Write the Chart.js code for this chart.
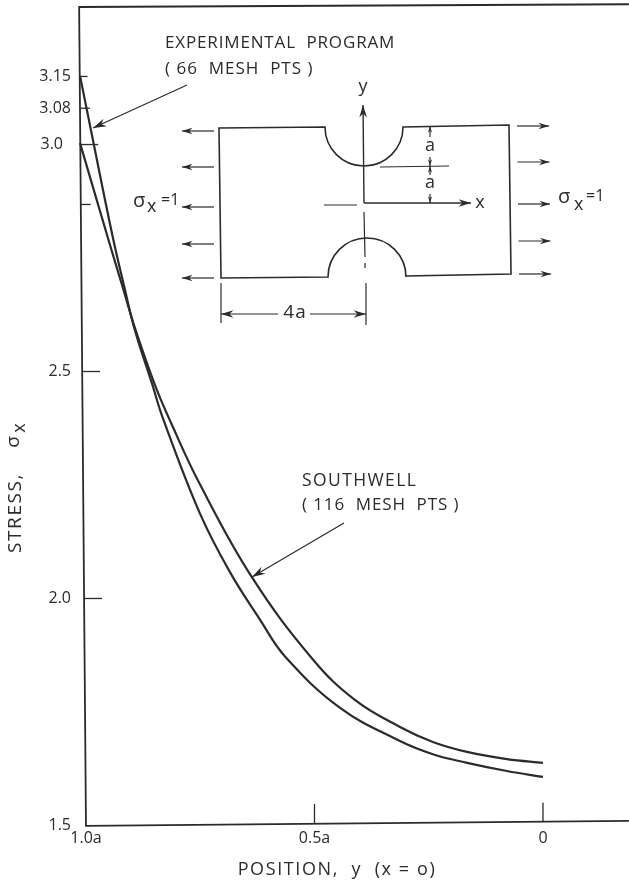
<!DOCTYPE html>
<html>
<head>
<meta charset="utf-8">
<title>Stress</title>
<script src="https://cdn.jsdelivr.net/npm/chart.js@4"></script>
<style>
  html, body { margin: 0; padding: 0; background: #fff; }
  canvas { display: block; }
</style>
</head>
<body>
<canvas id="chart" width="629" height="883"></canvas>
<script>
// values
const experimentalX = [1.013, 0.990, 0.941, 0.917, 0.893, 0.856, 0.832, 0.751, 0.685, 0.619, 0.565, 0.444, 0.313, 0.241, 0.166, 0.079, 0];
const experimentalY = [3.151, 3.036, 2.794, 2.690, 2.591, 2.475, 2.398, 2.188, 2.058, 1.953, 1.873, 1.759, 1.686, 1.657, 1.638, 1.620, 1.607];
const southwellX = [1.013, 0.952, 0.921, 0.893, 0.849, 0.814, 0.751, 0.637, 0.503, 0.411, 0.313, 0.241, 0.166, 0.079, 0];
const southwellY = [3.003, 2.794, 2.690, 2.596, 2.470, 2.387, 2.252, 2.047, 1.865, 1.776, 1.717, 1.684, 1.662, 1.646, 1.638];

// the scanned frame is slightly skewed, so it is drawn as a line too
const frameX = [-0.188, 1.015, 1, -0.188];
const frameY = [3.309, 3.303, 1.499, 1.510];

const xTickValues = [1, 0.5, 0];
const xTickLabels = ["1.0a", "0.5a", "0"];
const xTickLengths = [0, 20, 19];
const yTickValues = [1.5, 2, 2.5, 2.868, 3, 3.08, 3.15];
const yTickLabels = ["1.5", "2.0", "2.5", "", "3.0\u2002", "3.08", "3.15"];
const yTickLengths = [0, 18, 18, 10, 18, 10, 8];

const ink = "#2b2b2b";
const fontName = '"Open Sans", sans-serif';

function toPoints(xs, ys) {
  return xs.map((x, i) => ({ x: x, y: ys[i] }));
}

function line(ctx, x1, y1, x2, y2) {
  ctx.beginPath();
  ctx.moveTo(x1, y1);
  ctx.lineTo(x2, y2);
  ctx.stroke();
}

// line with a small barbed head at x2,y2
function arrow(ctx, x1, y1, x2, y2, size) {
  const s = size || 11;
  const a = Math.atan2(y2 - y1, x2 - x1);
  line(ctx, x1, y1, x2, y2);
  ctx.beginPath();
  ctx.moveTo(x2, y2);
  ctx.lineTo(x2 - s * Math.cos(a - 0.3), y2 - s * Math.sin(a - 0.3));
  ctx.lineTo(x2 - s * 0.65 * Math.cos(a), y2 - s * 0.65 * Math.sin(a));
  ctx.lineTo(x2 - s * Math.cos(a + 0.3), y2 - s * Math.sin(a + 0.3));
  ctx.closePath();
  ctx.fill();
}

function text(ctx, str, x, y, size, spacing, align) {
  ctx.font = size + "px " + fontName;
  ctx.letterSpacing = (spacing || 0) + "px";
  ctx.textAlign = align || "left";
  ctx.textBaseline = "middle";
  ctx.fillText(str, x, y);
  ctx.letterSpacing = "0px";
}

function drawTicks(ctx, chart) {
  const xs = chart.scales.x, ys = chart.scales.y;
  ctx.lineWidth = 1.3;
  yTickValues.forEach((v, i) => {
    const py = ys.getPixelForValue(v);
    const left = 79 + (py - 7) / 819 * 7;
    if (yTickLengths[i]) line(ctx, left, py, left + yTickLengths[i], py);
  });
  xTickValues.forEach((v, i) => {
    const px = xs.getPixelForValue(v);
    const bottom = 826 - (px - 86) / 543 * 5;
    if (xTickLengths[i]) line(ctx, px, bottom, px, bottom - xTickLengths[i]);
  });
}

function drawLabels(ctx) {
  text(ctx, "EXPERIMENTAL  PROGRAM", 165, 43, 17, 0.85);
  text(ctx, "( 66  MESH  PTS )", 165, 69, 17, 1);
  text(ctx, "SOUTHWELL", 302, 481, 17.5, 1.4);
  text(ctx, "( 116  MESH  PTS )", 302, 505, 17, 0.9);
  text(ctx, "POSITION,  y  (x = o)", 337, 870, 18, 1.6, "center");

  ctx.save();
  ctx.translate(16, 488);
  ctx.rotate(-Math.PI / 2);
  text(ctx, "STRESS,", -65, 0, 19, 1.6);
  text(ctx, "\u03c3", 46, -2, 19, 0, "center");
  text(ctx, "x", 60, 4, 18, 0, "center");
  ctx.restore();

  ctx.lineWidth = 1.2;
  arrow(ctx, 187, 85, 93, 128, 14);
  arrow(ctx, 344, 523, 252, 577, 14);
}

function drawPlate(ctx) {
  // outline with the two notches
  ctx.lineWidth = 1.6;
  ctx.beginPath();
  ctx.moveTo(219, 128);
  ctx.lineTo(325, 127);
  ctx.arc(364, 127, 39, Math.PI, 0, true);
  ctx.lineTo(509, 125);
  ctx.lineTo(511, 274);
  ctx.lineTo(406, 276);
  ctx.arc(367, 277, 39, 0, Math.PI, true);
  ctx.lineTo(221, 278);
  ctx.closePath();
  ctx.stroke();

  ctx.lineWidth = 1.2;
  [131, 167, 207, 244, 278].forEach(y => arrow(ctx, 214, y, 182, y));
  [126, 162, 204, 241, 274].forEach((y, i) => arrow(ctx, 517 + i * 0.5, y, 549 + i * 0.5, y));

  // y and x axes of the plate, centre lines
  ctx.lineWidth = 1.4;
  arrow(ctx, 364, 203, 363, 105, 13);
  arrow(ctx, 364, 203, 471, 203, 13);
  ctx.lineWidth = 1.2;
  line(ctx, 324, 205, 357, 205);
  line(ctx, 364, 212, 365, 257);
  line(ctx, 365, 263, 365, 268);
  line(ctx, 366, 283, 366, 325);
  line(ctx, 221, 283, 221, 323);
  line(ctx, 380, 167, 449, 166);
  arrow(ctx, 278, 314, 221, 314, 13);
  arrow(ctx, 310, 314, 366, 314, 13);

  arrow(ctx, 430, 137, 430, 126, 7);
  arrow(ctx, 430, 157, 430, 166, 7);
  arrow(ctx, 430, 175, 430, 166, 7);
  arrow(ctx, 430, 194, 430, 203, 7);

  text(ctx, "a", 430, 146, 18, 0, "center");
  text(ctx, "a", 430, 183, 18, 0, "center");
  text(ctx, "4a", 295, 313, 19, 1, "center");
  text(ctx, "y", 363, 87, 18, 0, "center");
  text(ctx, "x", 480, 203, 18, 0, "center");

  text(ctx, "\u03c3", 133, 201, 20);
  text(ctx, "x", 147, 207, 18);
  text(ctx, "=1", 161, 200, 16);
  text(ctx, "\u03c3", 558, 197, 20);
  text(ctx, "x", 574, 205, 18);
  text(ctx, "=1", 586, 196, 16);
}

const drawingPlugin = {
  id: "drawing",
  afterDraw(chart) {
    const ctx = chart.ctx;
    ctx.save();
    ctx.strokeStyle = ink;
    ctx.fillStyle = ink;
    drawTicks(ctx, chart);
    drawLabels(ctx);
    drawPlate(ctx);
    ctx.restore();
  }
};

new Chart(document.getElementById("chart").getContext("2d"), {
  type: "scatter",
  plugins: [drawingPlugin],
  data: {
    datasets: [
      { label: "Frame", data: toPoints(frameX, frameY), showLine: true, tension: 0, borderColor: ink, borderWidth: 1.8, pointRadius: 0, clip: false },
      { label: "Experimental program (66 mesh pts)", data: toPoints(experimentalX, experimentalY), showLine: true, tension: 0.4, borderColor: ink, borderWidth: 2.2, pointRadius: 0, clip: false },
      { label: "Southwell (116 mesh pts)", data: toPoints(southwellX, southwellY), showLine: true, tension: 0.4, borderColor: ink, borderWidth: 2.2, pointRadius: 0, clip: false }
    ]
  },
  options: {
    responsive: false,
    animation: false,
    layout: { padding: { top: 2, right: 0, left: 0, bottom: 0 } },
    plugins: { legend: { display: false }, tooltip: { enabled: false } },
    scales: {
      x: {
        type: "linear",
        reverse: true,
        min: -0.1882,
        max: 1.0175,
        grid: { display: false, drawTicks: false },
        border: { display: false },
        afterFit(scale) {
          scale.height = 53;
          scale.paddingLeft = 0;
          scale.paddingRight = 0;
        },
        afterBuildTicks(scale) { scale.ticks = xTickValues.map(v => ({ value: v })); },
        ticks: {
          autoSkip: false,
          maxRotation: 0,
          padding: -1,
          color: ink,
          font: { family: fontName, size: 16 },
          callback: v => xTickLabels[xTickValues.indexOf(v)]
        }
      },
      y: {
        type: "linear",
        min: 1.49,
        max: 3.314,
        grid: { display: false, drawTicks: false },
        border: { display: false },
        afterFit(scale) {
          scale.width = 78;
          scale.paddingTop = 0;
          scale.paddingBottom = 0;
        },
        afterBuildTicks(scale) { scale.ticks = yTickValues.map(v => ({ value: v })); },
        ticks: {
          autoSkip: false,
          padding: 7,
          color: ink,
          font: { family: fontName, size: 16 },
          callback: v => yTickLabels[yTickValues.indexOf(v)]
        }
      }
    }
  }
});
</script>
</body>
</html>
